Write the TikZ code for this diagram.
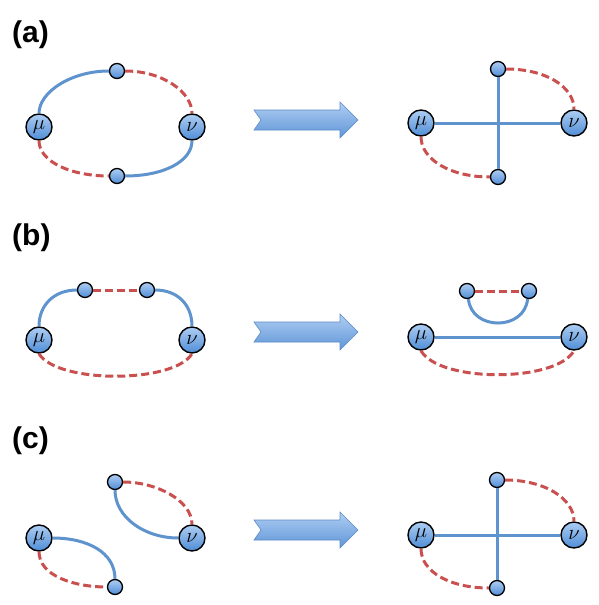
\documentclass[tikz,border=0pt]{standalone}
\usepackage{fontspec}
\setmainfont{Liberation Sans}
\definecolor{nlight}{HTML}{AECDF3}
\definecolor{ndark}{HTML}{4F8DD6}
\definecolor{bline}{HTML}{5E93CD}
\definecolor{rline}{HTML}{C9504E}
\definecolor{alight}{HTML}{B0CEF2}
\definecolor{adark}{HTML}{5E95D8}
\definecolor{aedge}{HTML}{5C8BC6}
\tikzset{
  bignd/.style={circle,draw=black,line width=1.4pt,minimum size=26pt,inner sep=0pt,
    top color=nlight,bottom color=ndark,font=\fontsize{20}{20}\selectfont},
  smallnd/.style={circle,draw=black,line width=1.3pt,minimum size=15pt,inner sep=0pt,
    top color=nlight,bottom color=ndark},
  bl/.style={draw=bline,line width=3pt},
  rd/.style={draw=rline,line width=3pt,dash pattern=on 8pt off 4pt},
  lab/.style={font=\fontsize{30}{30}\selectfont\bfseries,anchor=west,inner sep=0pt},
  blockarrow/.style={top color=alight,bottom color=adark,draw=aedge,line width=0.6pt,line join=miter}
}
\begin{document}
\begin{tikzpicture}[x=1pt,y=-1pt]
\useasboundingbox (0,0) rectangle (598,605);
% labels
\node[lab] (la) at (12,35) {(a)};
\node[lab] (lb) at (12,238) {(b)};
\node[lab] (lc) at (12,441) {(c)};
% arrows
\foreach \yc in {120,332,530}{
  \path[blockarrow] (254,\yc-10) -- (261,\yc) -- (254,\yc+10) -- (340,\yc+10) -- (340,\yc+18)
    -- (358,\yc) -- (340,\yc-18) -- (340,\yc-10) -- cycle;
}
% ---------- (a) left
\node[bignd] (amu) at (39,127) {$\mu$};
\node[bignd] (anu) at (192,127) {$\nu$};
\node[smallnd] (at) at (117,71) {};
\node[smallnd] (ab) at (117,176) {};
\draw[bl] (amu.north) .. controls +(0,-21) and +(-38,0) .. (at.west);
\draw[rd] (at.east) .. controls +(38,0) and +(0,-21) .. (anu.north);
\draw[rd] (amu.south) .. controls +(0,21) and +(-38,0) .. (ab.west);
\draw[bl] (ab.east) .. controls +(38,0) and +(0,21) .. (anu.south);
% ---------- (a) right
\node[bignd] (bmu) at (421,123) {$\mu$};
\node[bignd] (bnu) at (574,123) {$\nu$};
\node[smallnd] (bt) at (498,69) {};
\node[smallnd] (bb) at (498,177) {};
\draw[bl] (bmu) -- (bnu);
\draw[bl] (bt) -- (bb);
\draw[rd] (bt.east) .. controls +(39,0) and +(0,-23) .. (bnu.north);
\draw[rd] (bmu.south) .. controls +(0,23) and +(-39,0) .. (bb.west);
% ---------- (b) left
\node[bignd] (cmu) at (39,340) {$\mu$};
\node[bignd] (cnu) at (192,340) {$\nu$};
\node[smallnd] (cs1) at (85,290) {};
\node[smallnd] (cs2) at (147,290) {};
\draw[bl] (cmu.north) .. controls +(0,-22) and +(-22,0) .. (cs1.west);
\draw[rd] (cs1) -- (cs2);
\draw[bl] (cs2.east) .. controls +(22,0) and +(0,-22) .. (cnu.north);
\draw[rd] (cmu.south) .. controls +(18,30) and +(-18,30) .. (cnu.south);
% ---------- (b) right
\node[bignd] (dmu) at (421,337) {$\mu$};
\node[bignd] (dnu) at (574,337) {$\nu$};
\node[smallnd] (ds1) at (467,291) {};
\node[smallnd] (ds2) at (529,291) {};
\draw[rd] (ds1) -- (ds2);
\draw[bl] (ds1.-80) .. controls +(3,32) and +(-3,32) .. (ds2.-100);
\draw[bl] (dmu) -- (dnu);
\draw[rd] (dmu.south) .. controls +(18,32) and +(-18,32) .. (dnu.south);
% ---------- (c) left
\node[bignd] (emu) at (39,538) {$\mu$};
\node[bignd] (enu) at (192,538) {$\nu$};
\node[smallnd] (et) at (115,482) {};
\node[smallnd] (eb) at (115,587) {};
\draw[bl] (et.south) .. controls +(0,27) and +(-34,0) .. (enu.west);
\draw[rd] (et.east) .. controls +(33,0) and +(0,-24) .. (enu.north);
\draw[bl] (emu.east) .. controls +(34,0) and +(0,-27) .. (eb.north);
\draw[rd] (emu.south) .. controls +(0,24) and +(-33,0) .. (eb.west);
% ---------- (c) right
\node[bignd] (fmu) at (421,535) {$\mu$};
\node[bignd] (fnu) at (574,535) {$\nu$};
\node[smallnd] (ft) at (497,480) {};
\node[smallnd] (fb) at (497,588) {};
\draw[bl] (fmu) -- (fnu);
\draw[bl] (ft) -- (fb);
\draw[rd] (ft.east) .. controls +(39,0) and +(0,-23) .. (fnu.north);
\draw[rd] (fmu.south) .. controls +(0,23) and +(-39,0) .. (fb.west);
\end{tikzpicture}
\end{document}
